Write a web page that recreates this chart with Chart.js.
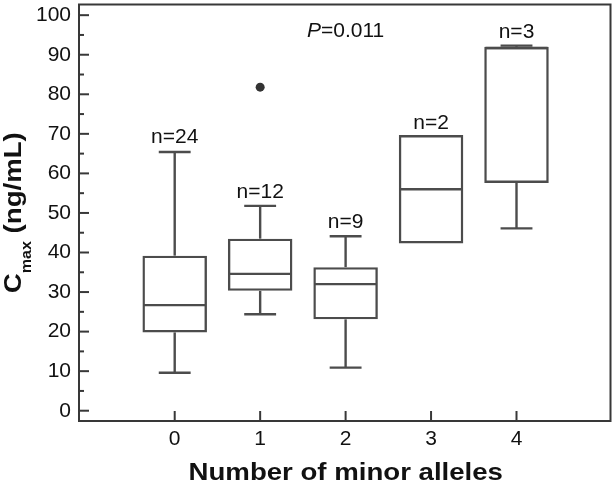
<!DOCTYPE html>
<html><head><meta charset="utf-8">
<script src="https://cdn.jsdelivr.net/npm/chart.js@4.4.0/dist/chart.umd.min.js"></script>
<style>html,body{margin:0;padding:0;background:#fff}canvas{display:block}</style>
</head><body>
<canvas id="c" width="615" height="483"></canvas>
<script>
// ---- data ----
const categories = [0, 1, 2, 3, 4];
const nLabels = ['n=24', 'n=12', 'n=9', 'n=2', 'n=3'];
const whiskerLow = [9.6, 24.4, 10.9, null, 46.1];
const q1 = [19.8, 30.3, 23.1, 42.3, 57.6];
const medians = [26.7, 34.6, 32.0, 56.0, 91.7];
const q3 = [39.2, 43.5, 36.3, 69.7, 92.0];
const whiskerHigh = [65.4, 51.8, 44.1, null, 92.3];
const outlierCats = [1];
const outlierVals = [81.8];
const nLabelVals = [67.6, 53.9, 46.3, 71.3, 94.2];
const yTickValues = [0, 10, 20, 30, 40, 50, 60, 70, 80, 90, 100];
const yMinorValues = [5, 15, 25, 35, 45, 55, 65, 75, 85, 95];
const pText = ['P', '=0.011'];
const pCat = 2, pVal = 94.4;
const xTitle = 'Number of minor alleles';
const yTitle = ['C', 'max', ' (ng/mL)'];

const FONT = "'Liberation Sans', Arial, sans-serif";
const BOX = '#4c4c4c';
const INK = '#111111';

const extras = {
  id: 'extras',
  afterDatasetsDraw(chart) {
    const { ctx, scales: { x, y }, chartArea: a } = chart;
    const meta = chart.getDatasetMeta(0);
    ctx.save();
    ctx.strokeStyle = BOX; ctx.lineWidth = 2.4; ctx.lineCap = 'butt';
    const seg = (x1, y1, x2, y2) => { ctx.beginPath(); ctx.moveTo(x1, y1); ctx.lineTo(x2, y2); ctx.stroke(); };
    const capHalf = (x.getPixelForValue(0.373) - x.getPixelForValue(0)) / 2;
    categories.forEach((c, i) => {
      const cx = x.getPixelForValue(c);
      const half = meta.data[i].width / 2 - 1.2;
      seg(cx - half, y.getPixelForValue(medians[i]), cx + half, y.getPixelForValue(medians[i]));
      if (whiskerHigh[i] != null) {
        const t = y.getPixelForValue(whiskerHigh[i]);
        seg(cx, y.getPixelForValue(q3[i]), cx, t);
        seg(cx - capHalf, t, cx + capHalf, t);
      }
      if (whiskerLow[i] != null) {
        const b = y.getPixelForValue(whiskerLow[i]);
        seg(cx, y.getPixelForValue(q1[i]), cx, b);
        seg(cx - capHalf, b, cx + capHalf, b);
      }
      ctx.fillStyle = INK; ctx.font = '21px ' + FONT;
      ctx.textAlign = 'center'; ctx.textBaseline = 'alphabetic';
      ctx.fillText(nLabels[i], cx, y.getPixelForValue(nLabelVals[i]));
    });
    // P value
    ctx.font = 'italic 21px ' + FONT;
    const w1 = ctx.measureText(pText[0]).width;
    ctx.font = '21px ' + FONT;
    const w2 = ctx.measureText(pText[1]).width;
    const px0 = x.getPixelForValue(pCat) - (w1 + w2) / 2;
    const py = y.getPixelForValue(pVal);
    ctx.textAlign = 'left';
    ctx.font = 'italic 21px ' + FONT; ctx.fillText(pText[0], px0, py);
    ctx.font = '21px ' + FONT; ctx.fillText(pText[1], px0 + w1, py);

    // frame + inward ticks
    ctx.strokeStyle = '#383838'; ctx.lineWidth = 2;
    ctx.strokeRect(a.left, a.top, a.right - a.left, a.bottom - a.top);
    yTickValues.forEach(v => { const p = y.getPixelForValue(v); seg(a.left, p, a.left + 10, p); });
    yMinorValues.forEach(v => { const p = y.getPixelForValue(v); seg(a.left, p, a.left + 5, p); });
    categories.forEach(c => { const p = x.getPixelForValue(c); seg(p, a.bottom, p, a.bottom - 10); });

    // x title
    ctx.fillStyle = INK;
    ctx.save();
    ctx.translate((a.left + a.right) / 2 + 1, 480);
    ctx.scale(1.15, 1);
    ctx.font = 'bold 24px ' + FONT; ctx.textAlign = 'center';
    ctx.fillText(xTitle, 0, 0);
    ctx.restore();

    // y title
    ctx.save();
    ctx.translate(21, (a.top + a.bottom) / 2);
    ctx.rotate(-Math.PI / 2);
    ctx.scale(1.15, 1);
    ctx.textAlign = 'left';
    ctx.font = 'bold 24px ' + FONT; const wc = ctx.measureText(yTitle[0]).width;
    const wr = ctx.measureText(yTitle[2]).width;
    ctx.font = 'bold 14px ' + FONT; const wm = ctx.measureText(yTitle[1]).width;
    let sx = -(wc + wm + wr) / 2;
    ctx.font = 'bold 24px ' + FONT; ctx.fillText(yTitle[0], sx, 0); sx += wc;
    ctx.font = 'bold 14px ' + FONT; ctx.fillText(yTitle[1], sx, 10); sx += wm;
    ctx.font = 'bold 24px ' + FONT; ctx.fillText(yTitle[2], sx, 0);
    ctx.restore();
    ctx.restore();
  }
};

new Chart(document.getElementById('c'), {
  type: 'bar',
  data: {
    datasets: [
      {
        type: 'bar',
        data: categories.map((c, i) => ({ x: c, y: [q1[i], q3[i]] })),
        backgroundColor: 'rgba(0,0,0,0)',
        borderColor: BOX,
        borderWidth: 2.4,
        borderSkipped: false,
        barPercentage: 0.755,
        categoryPercentage: 1
      },
      {
        type: 'scatter',
        data: outlierCats.map((c, i) => ({ x: c, y: outlierVals[i] })),
        pointRadius: 4.5,
        backgroundColor: '#333',
        borderWidth: 0
      }
    ]
  },
  options: {
    responsive: false,
    animation: false,
    devicePixelRatio: 1,
    layout: { padding: { left: 0, top: 2, right: 3, bottom: 0 } },
    plugins: { legend: { display: false }, tooltip: { enabled: false } },
    scales: {
      x: {
        type: 'linear', min: -1.12, max: 5.10, offset: false,
        afterBuildTicks: s => { s.ticks = categories.map(v => ({ value: v })); },
        afterFit: s => { s.height = 62; s.paddingLeft = 0; s.paddingRight = 0; },
        grid: { display: false, drawTicks: false, offset: false }, border: { display: false },
        ticks: { font: { family: FONT, size: 21 }, color: INK, padding: 6, maxRotation: 0, callback: v => String(v) }
      },
      y: {
        min: -2.6, max: 102.7,
        afterBuildTicks: s => { s.ticks = yTickValues.map(v => ({ value: v })); },
        afterFit: s => { s.width = 79; s.paddingTop = 0; s.paddingBottom = 0; },
        grid: { display: false, drawTicks: false }, border: { display: false },
        ticks: { font: { family: FONT, size: 21 }, color: INK, padding: 8, callback: v => String(v) }
      }
    }
  },
  plugins: [extras]
});
</script>
</body></html>
